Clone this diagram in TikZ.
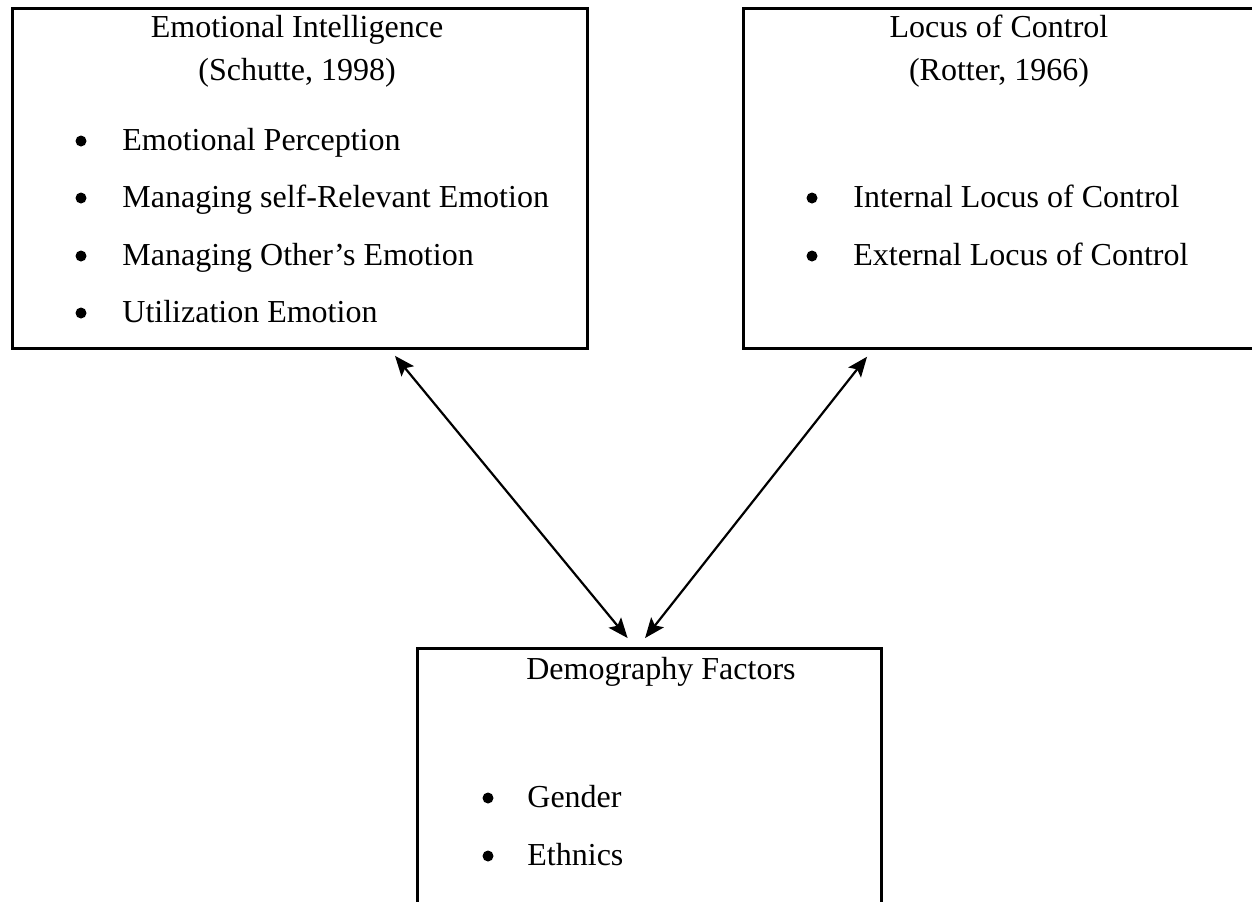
\documentclass[tikz,border=0pt]{standalone}
\usepackage{fontspec}
\setmainfont{Liberation Serif}
\usetikzlibrary{arrows.meta}

\begin{document}
\begin{tikzpicture}[x=0.5pt,y=-0.5pt,
    panel/.style={draw,line width=1.4pt,anchor=north west,inner sep=0pt},
    txt/.style={anchor=base,inner sep=0pt,font=\fontsize{16}{19}\selectfont},
    item/.style={txt,anchor=base west},
    dot/.style={circle,fill,inner sep=0pt,minimum size=5.5pt},
    link/.style={{Stealth[length=10pt,width=8pt,inset=2pt]}-{Stealth[length=10pt,width=8pt,inset=2pt]},line width=1.1pt}]
    \useasboundingbox (0,0) rectangle (1252,901);

    \node[panel,minimum width=287.5pt,minimum height=170pt] (ei) at (11,7) {};
    \node[panel,minimum width=258pt,minimum height=170pt] (loc) at (742,7) {};
    \node[panel,minimum width=232pt,minimum height=130pt] (demo) at (416,647) {};

    % emotional intelligence
    \node[txt] (einame) at (297,37) {Emotional Intelligence};
    \node[txt] (eiref) at (297,80) {(Schutte, 1998)};
    \node[dot] (eib1) at (81,141) {};
    \node[item] (eia) at (122,150) {Emotional Perception};
    \node[dot] (eib2) at (81,198) {};
    \node[item] (eib) at (122,207) {Managing self-Relevant Emotion};
    \node[dot] (eib3) at (81,256) {};
    \node[item] (eic) at (122,265) {Managing Other’s Emotion};
    \node[dot] (eib4) at (81,313) {};
    \node[item] (eid) at (122,322) {Utilization Emotion};

    % locus of control
    \node[txt] (locname) at (999,37) {Locus of Control};
    \node[txt] (locref) at (999,80) {(Rotter, 1966)};
    \node[dot] (locb1) at (812,198) {};
    \node[item] (loca) at (853,207) {Internal Locus of Control};
    \node[dot] (locb2) at (812,256) {};
    \node[item] (locb) at (853,265) {External Locus of Control};

    % demography
    \node[txt] (demoname) at (661,679) {Demography Factors};
    \node[dot] (demob1) at (488,798) {};
    \node[item] (demoa) at (527,807) {Gender};
    \node[dot] (demob2) at (488,856) {};
    \node[item] (demob) at (527,865) {Ethnics};

    \draw[link,shorten <=3.9pt,shorten >=5.8pt] ([xshift=189.5pt]ei.south west) -- ([xshift=109.5pt]demo.north west);
    \draw[link,shorten <=4.4pt,shorten >=5.7pt] ([xshift=65.25pt]loc.south west) -- ([xshift=111pt]demo.north west);
\end{tikzpicture}
\end{document}
